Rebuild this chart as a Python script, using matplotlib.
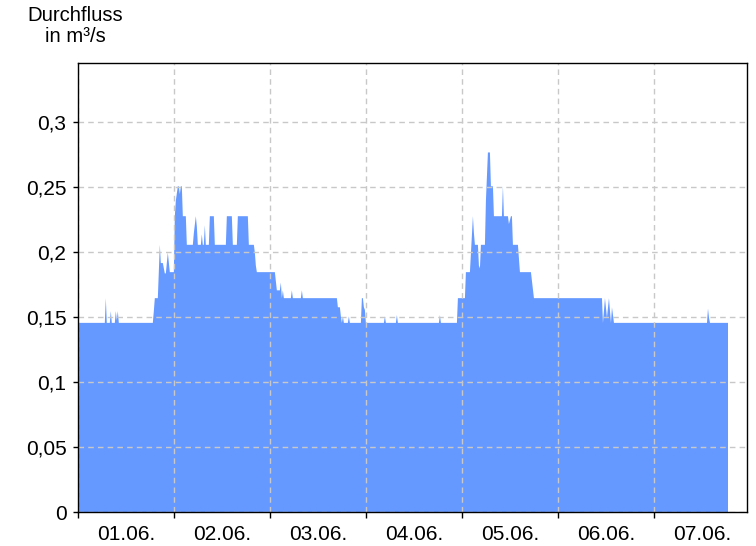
import numpy as np
import matplotlib
matplotlib.use("Agg")
import matplotlib.pyplot as plt

# quarter-hour index since 01.06. 00:00 and discharge in m³/s
quarter = [0, 26, 27, 28, 31, 32, 33, 36, 37, 38, 39, 40, 74, 75, 76, 79, 81, 82, 84, 86,
           87, 89, 91, 95, 96, 97, 99, 100, 101, 102, 103, 104, 107, 108, 114, 115, 117, 118,
           119, 122, 123, 124, 125, 126, 127, 130, 131, 135, 136, 147, 148, 153, 154, 158,
           159, 169, 170, 175, 176, 177, 178, 196, 198, 201, 202, 203, 204, 205, 212, 213,
           214, 222, 223, 224, 258, 259, 261, 262, 263, 264, 265, 269, 270, 271, 282, 283,
           284, 285, 286, 287, 305, 306, 307, 317, 318, 319, 360, 361, 362, 378, 379, 386,
           387, 391, 394, 395, 396, 399, 400, 401, 402, 406, 407, 409, 411, 412, 414, 415,
           423, 424, 425, 429, 430, 432, 433, 434, 439, 441, 452, 455, 523, 524, 526, 528,
           530, 532, 533, 535, 628, 629, 630, 631, 649]
flow = [0.146, 0.146, 0.165, 0.146, 0.146, 0.155, 0.146, 0.146, 0.155, 0.148, 0.155, 0.146,
        0.146, 0.155, 0.165, 0.165, 0.206, 0.192, 0.192, 0.184, 0.184, 0.200, 0.185, 0.185,
        0.228, 0.240, 0.251, 0.251, 0.245, 0.251, 0.251, 0.228, 0.228, 0.206, 0.206, 0.215,
        0.228, 0.220, 0.206, 0.206, 0.214, 0.206, 0.206, 0.221, 0.206, 0.206, 0.228, 0.228,
        0.206, 0.206, 0.228, 0.228, 0.206, 0.206, 0.228, 0.228, 0.206, 0.206, 0.200, 0.190,
        0.185, 0.185, 0.171, 0.171, 0.177, 0.165, 0.171, 0.165, 0.165, 0.171, 0.165, 0.165,
        0.171, 0.165, 0.165, 0.158, 0.158, 0.151, 0.146, 0.151, 0.146, 0.146, 0.151, 0.146,
        0.146, 0.165, 0.165, 0.158, 0.156, 0.146, 0.146, 0.151, 0.146, 0.146, 0.152, 0.146,
        0.146, 0.152, 0.146, 0.146, 0.165, 0.165, 0.185, 0.185, 0.228, 0.215, 0.206, 0.206,
        0.190, 0.188, 0.206, 0.206, 0.240, 0.277, 0.277, 0.251, 0.251, 0.228, 0.228, 0.251,
        0.228, 0.228, 0.222, 0.228, 0.228, 0.206, 0.206, 0.185, 0.185, 0.165, 0.165, 0.146,
        0.165, 0.150, 0.165, 0.146, 0.158, 0.146, 0.146, 0.157, 0.150, 0.146, 0.146]

day_labels = ["01.06.", "02.06.", "03.06.", "04.06.", "05.06.", "06.06.", "07.06."]
y_ticks = [0, 0.05, 0.1, 0.15, 0.2, 0.25, 0.3]
y_labels = ["0", "0,05", "0,1", "0,15", "0,2", "0,25", "0,3"]

plt.rcParams['font.family'] = ['Liberation Sans', 'DejaVu Sans']

W, H = 756, 546
fig = plt.figure(figsize=(W / 100, H / 100), dpi=100)
ax = fig.add_axes([78.3 / W, (H - 512.3) / H, (746.5 - 78.3) / W, (512.3 - 63.5) / H])

hours = np.array(quarter) / 4.0
ax.fill_between(hours, 0, flow, color='#6699FF', linewidth=0, zorder=1)

ax.set_xlim(0, 167)
ax.set_ylim(0, 0.345)

major = [24 * i for i in range(7)]
ax.set_xticks(major)
ax.set_xticklabels([])
ax.set_xticks([24 * i + 12 for i in range(7)], minor=True)
ax.set_xticklabels(day_labels, minor=True)
ax.tick_params(axis='x', which='major', length=4, width=1, direction='out')
ax.tick_params(axis='x', which='minor', length=0, pad=9, labelsize=15)

ax.set_yticks(y_ticks)
ax.set_yticklabels(y_labels)
ax.tick_params(axis='y', length=3.5, width=1, pad=5, labelsize=15)

ax.grid(True, which='major', color='#c8c8c8', linestyle=(0, (4, 3)), linewidth=1, zorder=2)
ax.set_axisbelow(False)
for s in ax.spines.values():
    s.set_linewidth(1.0)
    s.set_zorder(3)

fig.text(75 / W, 1 - 20.7 / H, "Durchfluss", ha='center', va='baseline', fontsize=14.6)
fig.text(75 / W, 1 - 41.7 / H, "in m³/s", ha='center', va='baseline', fontsize=14.6)

fig.savefig("out.png", dpi=100)
